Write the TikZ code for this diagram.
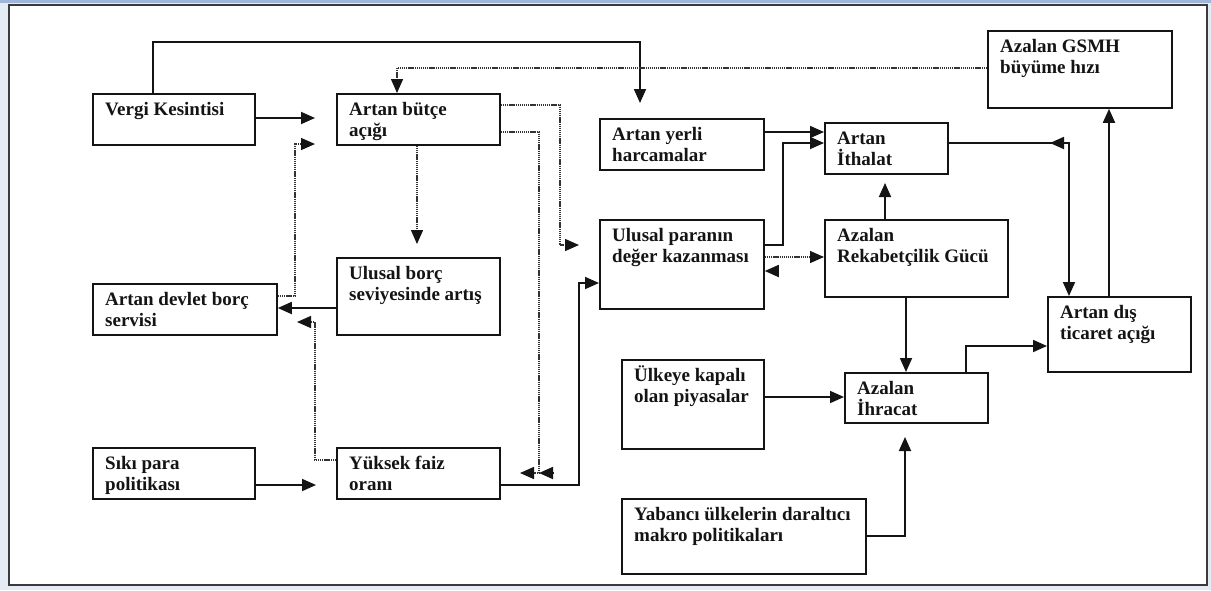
\documentclass[tikz,border=0pt]{standalone}
\usepackage{fontspec}
\setmainfont{Liberation Serif}
\usetikzlibrary{arrows.meta}
\definecolor{framebg}{HTML}{E4EBF4}
\definecolor{frametop}{HTML}{9FB6D8}
\definecolor{frameline}{HTML}{3A3A3A}
\definecolor{ink}{HTML}{141414}
\newcommand{\tstrut}{\rule{0pt}{17pt}}
\newcommand{\mybox}[6]{%
  \node[box, anchor=north west, minimum width={#4-#2}, minimum height={#5-#3}] (#1) at (#2,#3) {};
  \node[lbl, anchor=north west] (#1-t) at ([shift={(13,5.5)}]#1.north west) {\tstrut #6};}
\begin{document}
\begin{tikzpicture}[x=1pt, y=-1pt,
  box/.style={draw=ink, line width=1.8pt, inner sep=0pt, fill=white},
  lbl/.style={inner sep=0pt, align=left, font=\fontsize{19}{20.5}\selectfont\bfseries, text=ink},
  tip/.style={-{Triangle[length=14pt,width=12pt,color=ink]}},
  arr/.style={draw=ink, line width=1.8pt, tip},
  darr/.style={draw=black!80, line width=1.4pt, dash pattern=on 1.3pt off 0.8pt, tip}]
\useasboundingbox (0,0) rectangle (1211,590);
% outer frame
\fill[framebg] (0,0) rectangle (1211,590);
\fill[frametop] (0,0) rectangle (1211,3);
\draw[frameline, line width=2.2pt, fill=white] (9,5) rectangle (1207,585);
% boxes
\mybox{vk}{92}{93}{254}{144}{Vergi Kesintisi}
\mybox{ab}{336}{93}{499}{144}{Artan bütçe\\açığı}
\mybox{yerli}{599}{118}{763}{169}{Artan yerli\\harcamalar}
\mybox{ith}{824}{122}{947}{173}{Artan\\İthalat}
\mybox{gsmh}{987}{30}{1171}{107}{Azalan GSMH\\büyüme hızı}
\mybox{ulusal}{599}{219}{763}{308}{Ulusal paranın\\değer kazanması}
\mybox{rek}{824}{219}{1007}{296}{Azalan\\Rekabetçilik Gücü}
\mybox{dis}{1047}{296}{1190}{371}{Artan dış\\ticaret açığı}
\mybox{borc}{336}{257}{499}{334}{Ulusal borç\\seviyesinde artış}
\mybox{devlet}{92}{283}{276}{334}{Artan devlet borç\\servisi}
\mybox{siki}{92}{447}{254}{498}{Sıkı para\\politikası}
\mybox{yuksek}{336}{447}{499}{498}{Yüksek faiz\\oranı}
\mybox{ulk}{621}{359}{763}{448}{Ülkeye kapalı\\olan piyasalar}
\mybox{ihr}{844}{372}{987}{422}{Azalan\\İhracat}
\mybox{yab}{621}{498}{865}{573}{Yabancı ülkelerin daraltıcı\\makro politikaları}
% free ends
\coordinate (yerliIn) at (640,103);
\coordinate (abIn1) at (315,118);
\coordinate (abIn2) at (315,144);
\coordinate (borcIn) at (417,244);
\coordinate (ulusalIn) at (579,245);
\coordinate (yuksekIn) at (520,473);
\coordinate (yuksekCorner) at (539,473);
\coordinate (yuksekExtra) at (553,473);
\coordinate (devletIn) at (297,322);
\coordinate (sikiOut) at (316,485);
\coordinate (ulusalTip) at (777,271);
\coordinate (ithIn) at (885,183);
\coordinate (ithTip) at (1063,143);
\coordinate (ithTipEnd) at (1050,143);
\coordinate (ihrIn) at (905,437);
% connectors
\draw[arr] (vk.north -| 153,0) |- (640,42) -- (yerliIn);
\draw[darr] (gsmh.west |- 0,68) -| (ab.north -| 397,0);
\draw[arr] (vk.east |- abIn1) -- (abIn1);
\draw[darr] (devlet.east |- 0,296) -| (295,144) -- (abIn2);
\draw[darr] (ab.south -| borcIn) -- (borcIn);
\draw[darr] (ab.east |- 0,105) -| (560,245) -- (ulusalIn);
\draw[darr] (ab.east |- 0,132) -| (yuksekCorner) -- (yuksekIn);
\draw[arr] (yuksekExtra) -- (yuksekCorner);
\draw[arr] (borc.west |- 0,308) -- (devlet.east |- 0,308);
\draw[darr] (yuksek.west |- 0,460) -| (315,322) -- (devletIn);
\draw[arr] (siki.east |- sikiOut) -- (sikiOut);
\draw[arr] (yuksek.east |- 0,485) -| (579,283) -- (ulusal.west |- 0,283);
\draw[arr] (yerli.east |- 0,132) -- (ith.west |- 0,132);
\draw[arr] (ulusal.east |- 0,245) -| (783,143) -- (ith.west |- 0,143);
\draw[darr] (ulusal.east |- 0,257) -- (rek.west |- 0,257);
\draw[arr] (ulusalTip) -- (ulusal.east |- ulusalTip);
\draw[arr] (rek.north -| ithIn) -- (ithIn);
\draw[arr] (rek.south -| 906,0) -- (ihr.north -| 906,0);
\draw[arr] (ith.east |- 0,143) -| (dis.north -| 1069,0);
\draw[arr] (ithTip) -- (ithTipEnd);
\draw[arr] (dis.north -| 1109,0) -- (gsmh.south -| 1109,0);
\draw[arr] (ihr.north -| 966,0) |- (dis.west |- 0,346);
\draw[arr] (ulk.east |- 0,397) -- (ihr.west |- 0,397);
\draw[arr] (yab.east |- 0,536) -| (ihrIn);
\end{tikzpicture}
\end{document}
